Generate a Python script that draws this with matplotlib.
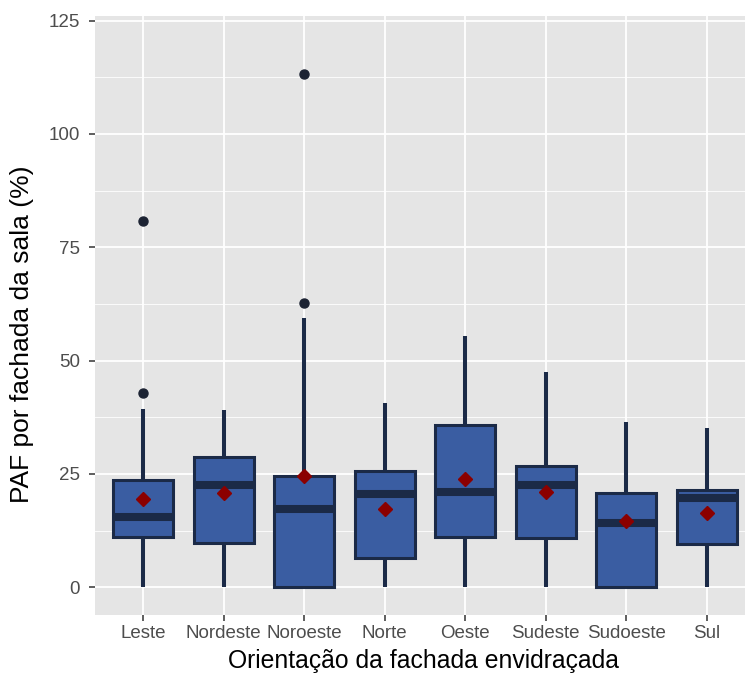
import numpy as np
import matplotlib.pyplot as plt
from matplotlib.ticker import MultipleLocator

plt.rcParams['font.family'] = ['Liberation Sans', 'DejaVu Sans']

orientacoes = ['Leste', 'Nordeste', 'Noroeste', 'Norte', 'Oeste', 'Sudeste', 'Sudoeste', 'Sul']
whisk_lo = [0, 0, 0, 0, 0, 0, 0, 0]
q1 = [11.2, 9.7, 0, 6.5, 11.2, 10.8, 0, 9.5]
mediana = [15.6, 22.5, 17.2, 20.5, 21.0, 22.6, 14.1, 19.8]
q3 = [23.7, 28.8, 24.6, 25.7, 35.8, 26.8, 20.9, 21.5]
whisk_hi = [39.3, 39.0, 59.5, 40.7, 55.4, 47.6, 36.5, 35.1]
media = [19.4, 20.9, 24.6, 17.2, 23.8, 21.1, 14.7, 16.3]
outliers = [[42.9, 80.8], [], [62.8, 113.2], [], [], [], [], []]

navy = '#1b2a47'
fill = '#3a5da2'

fig = plt.figure(figsize=(7.45, 6.73), dpi=100)
ax = fig.add_axes([95 / 745, 58 / 673, 650 / 745, 599 / 673])
ax.set_facecolor('#e5e5e5')

stats = []
for i, nome in enumerate(orientacoes):
    stats.append(dict(label=nome, whislo=whisk_lo[i], q1=q1[i], med=mediana[i],
                      q3=q3[i], whishi=whisk_hi[i], mean=media[i], fliers=outliers[i]))

pos = np.arange(1, len(orientacoes) + 1)
ax.bxp(stats, positions=pos, widths=0.75, patch_artist=True, showmeans=True,
       showcaps=False, zorder=3,
       boxprops=dict(facecolor=fill, edgecolor=navy, linewidth=2.2),
       medianprops=dict(color=navy, linewidth=5.8, solid_capstyle='butt'),
       whiskerprops=dict(color=navy, linewidth=2.9, solid_capstyle='butt'),
       flierprops=dict(marker='o', markerfacecolor='#1c2333', markeredgecolor='#1c2333',
                       markersize=6.5),
       meanprops=dict(marker='D', markerfacecolor='#8b0000', markeredgecolor='#8b0000',
                      markersize=7.5))

ax.set_xlim(0.4, 0.4 + 650 / 80.5)
ax.set_ylim(-6.1, 126.0)
ax.yaxis.set_major_locator(MultipleLocator(25))
ax.yaxis.set_minor_locator(MultipleLocator(12.5))
ax.set_xticks(pos)
ax.set_xticklabels(orientacoes)

ax.grid(which='major', color='white', linewidth=1.3, zorder=0)
ax.grid(which='minor', axis='y', color='white', linewidth=0.6, zorder=0)
ax.set_axisbelow(True)
for s in ax.spines.values():
    s.set_visible(False)

ax.tick_params(axis='both', which='major', colors='#333333', labelcolor='#4d4d4d',
               labelsize=13.5, length=4.5, width=1.1)
ax.tick_params(axis='y', which='major', pad=6.5)
ax.tick_params(axis='x', which='major', pad=3)
ax.tick_params(axis='y', which='minor', length=0)

ax.set_ylabel('PAF por fachada da sala (%)', fontsize=19, color='black')
ax.set_xlabel('Orientação da fachada envidraçada', fontsize=17.8, color='black')
ax.yaxis.set_label_coords(-0.094, 0.468)
ax.xaxis.set_label_coords(0.505, -0.056)

fig.savefig('out.png', dpi=100)
